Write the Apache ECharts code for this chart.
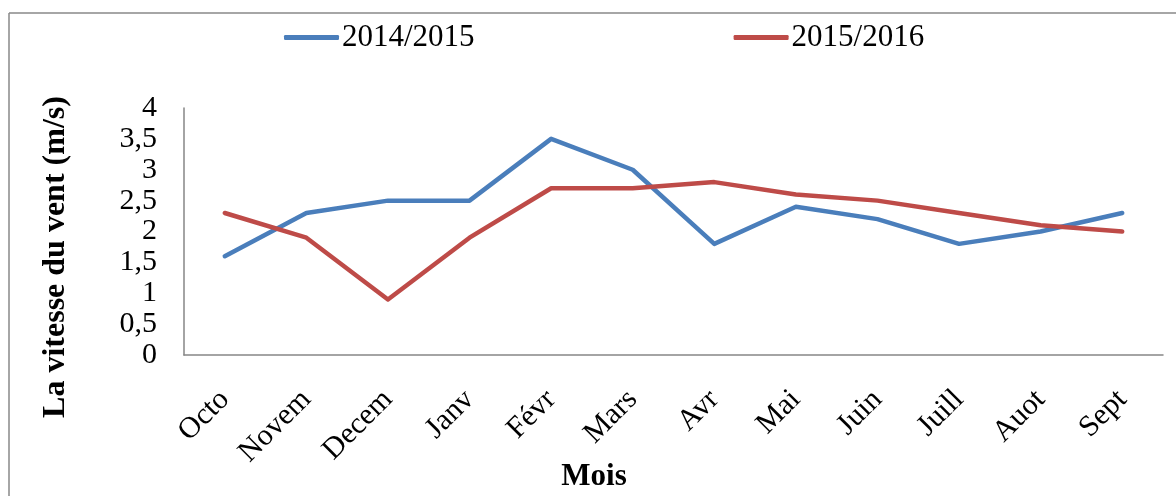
<!DOCTYPE html>
<html>
<head>
<meta charset="utf-8">
<script src="https://cdn.jsdelivr.net/npm/echarts@6/dist/echarts.min.js"></script>
<style>
html,body{margin:0;padding:0;background:#fff;}
#chart{width:1176px;height:496px;}
</style>
</head>
<body>
<div id="chart"></div>
<script>
const categories = ['Octo','Novem','Decem','Janv','Févr','Mars','Avr','Mai','Juin','Juill','Auot','Sept'];
const series2014 = [1.6, 2.3, 2.5, 2.5, 3.5, 3.0, 1.8, 2.4, 2.2, 1.8, 2.0, 2.3];
const series2015 = [2.3, 1.9, 0.9, 1.9, 2.7, 2.7, 2.8, 2.6, 2.5, 2.3, 2.1, 2.0];
const seriesNames = ['2014/2015', '2015/2016'];
const yTitle = 'La vitesse du vent (m/s)';
const xTitle = 'Mois';

const FONT = "'Liberation Serif', 'Times New Roman', serif";
const chart = echarts.init(document.getElementById('chart'), null, {renderer: 'canvas'});
chart.setOption({
  animation: false,
  backgroundColor: '#fff',
  grid: {left: 184, right: 13, top: 108, bottom: 141, containLabel: false},
  legend: {
    data: seriesNames,
    left: 279,
    top: 17,
    itemGap: 259,
    itemWidth: 55,
    itemHeight: 5,
    icon: 'roundRect',
    textStyle: {fontFamily: FONT, fontSize: 31, color: '#000', padding: [0, 0, 0, -2]}
  },
  xAxis: {
    type: 'category',
    data: categories,
    boundaryGap: true,
    axisLine: {show: true, lineStyle: {color: '#868686', width: 1.5}},
    axisTick: {show: false},
    splitLine: {show: false},
    axisLabel: {
      interval: 0,
      rotate: 45,
      margin: 40,
      fontFamily: FONT,
      fontSize: 30,
      color: '#000'
    }
  },
  yAxis: {
    type: 'value',
    min: 0,
    max: 4,
    interval: 0.5,
    axisLine: {show: true, lineStyle: {color: '#868686', width: 1.5}},
    axisTick: {show: false},
    splitLine: {show: false},
    axisLabel: {
      margin: 27,
      fontFamily: FONT,
      fontSize: 30,
      color: '#000',
      formatter: v => String(v).replace('.', ',')
    }
  },
  graphic: [
    {type: 'line', shape: {x1: 9, y1: 13, x2: 9, y2: 500}, style: {stroke: '#888', lineWidth: 1.5}},
    {type: 'line', shape: {x1: 9, y1: 13, x2: 1180, y2: 13}, style: {stroke: '#888', lineWidth: 1.5}},
    {type: 'text', x: 56, y: 257, rotation: Math.PI / 2,
      style: {text: yTitle, font: "bold 32px 'Liberation Serif', 'Times New Roman', serif", fill: '#000', textAlign: 'center', textVerticalAlign: 'middle'}},
    {type: 'text', x: 594, y: 477,
      style: {text: xTitle, font: "bold 31px 'Liberation Serif', 'Times New Roman', serif", fill: '#000', textAlign: 'center', textVerticalAlign: 'middle'}}
  ],
  series: [
    {
      name: seriesNames[0], type: 'line', data: series2014,
      showSymbol: false, symbol: 'none',
      lineStyle: {color: '#4A7EBB', width: 4.5, cap: 'round', join: 'round'},
      itemStyle: {color: '#4A7EBB'}
    },
    {
      name: seriesNames[1], type: 'line', data: series2015,
      showSymbol: false, symbol: 'none',
      lineStyle: {color: '#BE4B48', width: 4.5, cap: 'round', join: 'round'},
      itemStyle: {color: '#BE4B48'}
    }
  ]
});
</script>
</body>
</html>
